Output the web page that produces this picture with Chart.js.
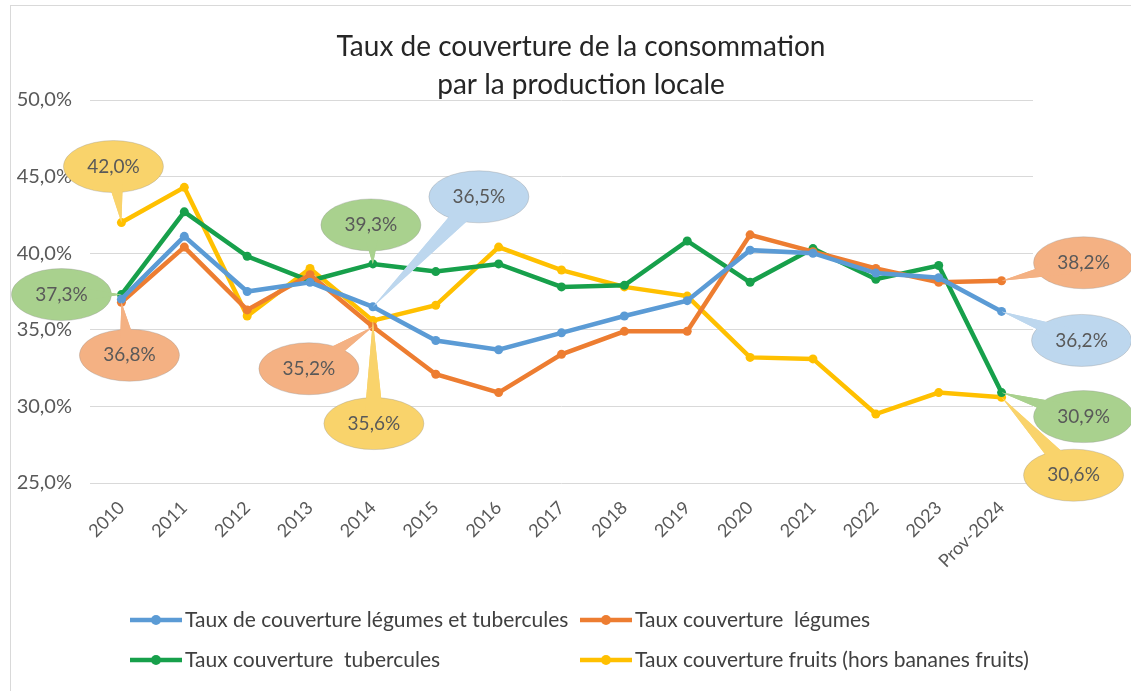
<!DOCTYPE html>
<html>
<head>
<meta charset="utf-8">
<script src="https://cdn.jsdelivr.net/npm/chart.js@4"></script>
<style>
  html, body { margin: 0; padding: 0; background: #fff; }
  #wrap { width: 1131px; height: 691px; position: relative; }
</style>
</head>
<body>
<div id="wrap"><canvas id="chart"></canvas></div>
<script>
// Données
const annees = ['2010', '2011', '2012', '2013', '2014', '2015', '2016', '2017', '2018', '2019', '2020', '2021', '2022', '2023', 'Prov-2024'];
const tauxLegumesTubercules = [37.0, 41.1, 37.5, 38.1, 36.5, 34.3, 33.7, 34.8, 35.9, 36.9, 40.2, 40.0, 38.7, 38.4, 36.2];
const tauxLegumes = [36.8, 40.4, 36.3, 38.6, 35.2, 32.1, 30.9, 33.4, 34.9, 34.9, 41.2, 40.1, 39.0, 38.1, 38.2];
const tauxTubercules = [37.3, 42.7, 39.8, 38.2, 39.3, 38.8, 39.3, 37.8, 37.9, 40.8, 38.1, 40.3, 38.3, 39.2, 30.9];
const tauxFruits = [42.0, 44.3, 35.9, 39.0, 35.6, 36.6, 40.4, 38.9, 37.8, 37.2, 33.2, 33.1, 29.5, 30.9, 30.6];
const ticksY = [25, 30, 35, 40, 45, 50];
const titre = ['Taux de couverture de la consommation', 'par la production locale'];

const FONT = 'Lato, "Open Sans", sans-serif';
const fmt = v => v.toFixed(1).replace('.', ',') + '%';

// bulles (dataset, index, décalage, couleur)
const bulles = [
    { ds: 3, i: 0, dx: -8, dy: -56, fill: '#f9d36b' },
    { ds: 2, i: 0, dx: -60, dy: 0, fill: '#a9d18e' },
    { ds: 1, i: 0, dx: 8, dy: 53, fill: '#f4b183' },
    { ds: 2, i: 4, dx: -2, dy: -39, fill: '#a9d18e' },
    { ds: 0, i: 4, dx: 106, dy: -110, fill: '#bdd7ee' },
    { ds: 1, i: 4, dx: -64, dy: 42, fill: '#f4b183' },
    { ds: 3, i: 4, dx: 1, dy: 103, fill: '#f9d36b' },
    { ds: 1, i: 14, dx: 82, dy: -18, fill: '#f4b183' },
    { ds: 0, i: 14, dx: 80, dy: 29, fill: '#bdd7ee' },
    { ds: 2, i: 14, dx: 82, dy: 24, fill: '#a9d18e' },
    { ds: 3, i: 14, dx: 72, dy: 78, fill: '#f9d36b' }
];

const calloutPlugin = {
    id: 'callouts',
    afterDatasetsDraw(chart) {
        const ctx = chart.ctx;
        bulles.forEach(b => {
            const pt = chart.getDatasetMeta(b.ds).data[b.i];
            const v = chart.data.datasets[b.ds].data[b.i];
            const cx = pt.x + b.dx, cy = pt.y + b.dy;
            const rx = 50, ry = 26;
            const ang = Math.atan2(pt.y - cy, pt.x - cx);
            const px = -Math.sin(ang) * 10, py = Math.cos(ang) * 10;
            const pointe = () => {
                ctx.beginPath();
                ctx.moveTo(cx + px, cy + py);
                ctx.lineTo(pt.x, pt.y);
                ctx.lineTo(cx - px, cy - py);
                ctx.closePath();
                ctx.fill();
            };
            ctx.save();
            ctx.fillStyle = b.fill;
            ctx.strokeStyle = 'rgba(150,150,150,0.35)';
            ctx.lineWidth = 1;
            pointe();
            ctx.beginPath();
            ctx.ellipse(cx, cy, rx, ry, 0, 0, Math.PI * 2);
            ctx.fill();
            ctx.stroke();
            pointe();
            ctx.fillStyle = '#595959';
            ctx.font = '19px ' + FONT;
            ctx.textAlign = 'center';
            ctx.textBaseline = 'middle';
            ctx.fillText(fmt(v), cx, cy);
            ctx.restore();
        });
    }
};

// titre, légende maison sur 2 colonnes + cadre
const decorPlugin = {
    id: 'decor',
    afterDraw(chart) {
        const ctx = chart.ctx;
        ctx.save();
        ctx.strokeStyle = '#d9d9d9';
        ctx.lineWidth = 1;
        ctx.strokeRect(10.5, 5.5, 1140, 700);

        ctx.fillStyle = '#262626';
        ctx.font = '28px ' + FONT;
        ctx.textAlign = 'center';
        ctx.textBaseline = 'middle';
        ctx.fillText(titre[0], 581, 47);
        ctx.fillText(titre[1], 581, 85);

        const pos = [[130, 620], [580, 620], [130, 660], [580, 660]];
        chart.data.datasets.forEach((ds, k) => {
            const [x, y] = pos[k];
            ctx.strokeStyle = ds.borderColor;
            ctx.fillStyle = ds.borderColor;
            ctx.lineWidth = 4.5;
            ctx.beginPath();
            ctx.moveTo(x, y);
            ctx.lineTo(x + 52, y);
            ctx.stroke();
            ctx.beginPath();
            ctx.arc(x + 26, y, 5, 0, Math.PI * 2);
            ctx.fill();
            ctx.fillStyle = '#404040';
            ctx.font = '21px ' + FONT;
            ctx.textAlign = 'left';
            ctx.textBaseline = 'middle';
            ctx.fillText(ds.label, x + 55, y);
        });
        ctx.restore();
    }
};

const serie = (label, data, color) => ({
    label, data,
    borderColor: color,
    backgroundColor: color,
    borderWidth: 4.5,
    pointRadius: 4.5,
    pointBorderWidth: 0,
    tension: 0
});

new Chart(document.getElementById('chart'), {
    type: 'line',
    data: {
        labels: annees,
        datasets: [
            serie('Taux de couverture légumes et tubercules', tauxLegumesTubercules, '#5b9bd5'),
            serie('Taux couverture  légumes', tauxLegumes, '#ed7d31'),
            serie('Taux couverture  tubercules', tauxTubercules, '#17a04b'),
            serie('Taux couverture fruits (hors bananes fruits)', tauxFruits, '#ffc000')
        ]
    },
    options: {
        responsive: true,
        maintainAspectRatio: false,
        animation: false,
        layout: { padding: { left: 10, right: 98, top: 100, bottom: 118 } },
        plugins: {
            legend: { display: false },
            tooltip: { enabled: false },
            title: { display: false }
        },
        scales: {
            y: {
                min: 25, max: 50,
                afterBuildTicks: s => { s.ticks = ticksY.map(v => ({ value: v })); },
                afterFit: s => { s.width = 80; },
                grid: { color: '#d9d9d9', drawTicks: false },
                border: { display: false },
                ticks: {
                    padding: 18,
                    color: '#595959',
                    font: { family: FONT, size: 20 },
                    callback: v => fmt(v)
                }
            },
            x: {
                offset: true,
                afterFit: s => { s.height = 90; },
                grid: { display: false },
                border: { display: false },
                ticks: {
                    minRotation: 45, maxRotation: 45,
                    padding: 6,
                    color: '#595959',
                    font: { family: FONT, size: 18 }
                }
            }
        }
    },
    plugins: [calloutPlugin, decorPlugin]
});
</script>
</body>
</html>
